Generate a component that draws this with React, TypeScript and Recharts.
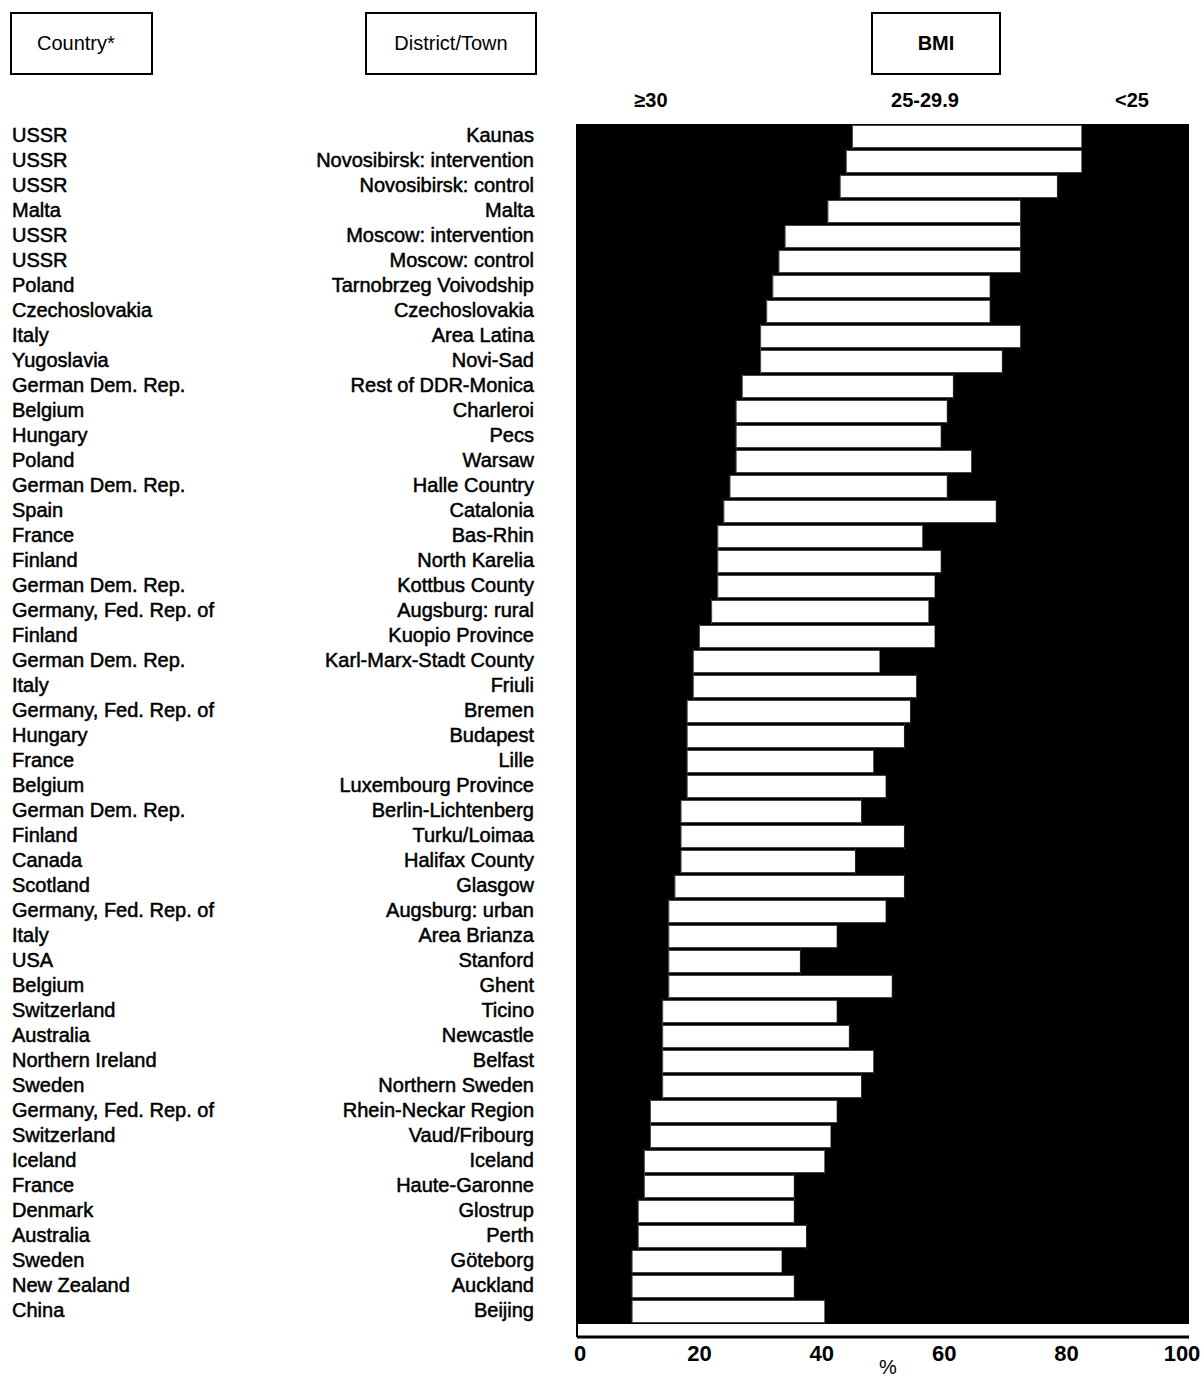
import { BarChart, Bar, XAxis, YAxis } from "recharts";

const countries = [
  "USSR", "USSR", "USSR", "Malta", "USSR", "USSR", "Poland", "Czechoslovakia",
  "Italy", "Yugoslavia", "German Dem. Rep.", "Belgium", "Hungary", "Poland",
  "German Dem. Rep.", "Spain", "France", "Finland", "German Dem. Rep.",
  "Germany, Fed. Rep. of", "Finland", "German Dem. Rep.", "Italy",
  "Germany, Fed. Rep. of", "Hungary", "France", "Belgium", "German Dem. Rep.",
  "Finland", "Canada", "Scotland", "Germany, Fed. Rep. of", "Italy", "USA",
  "Belgium", "Switzerland", "Australia", "Northern Ireland", "Sweden",
  "Germany, Fed. Rep. of", "Switzerland", "Iceland", "France", "Denmark",
  "Australia", "Sweden", "New Zealand", "China",
];

const districts = [
  "Kaunas", "Novosibirsk: intervention", "Novosibirsk: control", "Malta",
  "Moscow: intervention", "Moscow: control", "Tarnobrzeg Voivodship",
  "Czechoslovakia", "Area Latina", "Novi-Sad", "Rest of DDR-Monica",
  "Charleroi", "Pecs", "Warsaw", "Halle Country", "Catalonia", "Bas-Rhin",
  "North Karelia", "Kottbus County", "Augsburg: rural", "Kuopio Province",
  "Karl-Marx-Stadt County", "Friuli", "Bremen", "Budapest", "Lille",
  "Luxembourg Province", "Berlin-Lichtenberg", "Turku/Loimaa",
  "Halifax County", "Glasgow", "Augsburg: urban", "Area Brianza", "Stanford",
  "Ghent", "Ticino", "Newcastle", "Belfast", "Northern Sweden",
  "Rhein-Neckar Region", "Vaud/Fribourg", "Iceland", "Haute-Garonne",
  "Glostrup", "Perth", "Göteborg", "Auckland", "Beijing",
];

// BMI >= 30 (%)
const obese = [
  45, 44, 43, 41, 34, 33, 32, 31, 30, 30, 27, 26, 26, 26, 25, 24, 23, 23, 23,
  22, 20, 19, 19, 18, 18, 18, 18, 17, 17, 17, 16, 15, 15, 15, 15, 14, 14, 14,
  14, 12, 12, 11, 11, 10, 10, 9, 9, 9,
];

// BMI 25-29.9 (%)
const overweight = [
  37.5, 38.5, 35.5, 31.5, 38.5, 39.5, 35.5, 36.5, 42.5, 39.5, 34.5, 34.5,
  33.5, 38.5, 35.5, 44.5, 33.5, 36.5, 35.5, 35.5, 38.5, 30.5, 36.5, 36.5,
  35.5, 30.5, 32.5, 29.5, 36.5, 28.5, 37.5, 35.5, 27.5, 21.5, 36.5, 28.5,
  30.5, 34.5, 32.5, 30.5, 29.5, 29.5, 24.5, 25.5, 27.5, 24.5, 26.5, 31.5,
];

// BMI < 25 (%)
const normal = [
  17.5, 17.5, 21.5, 27.5, 27.5, 27.5, 32.5, 32.5, 27.5, 30.5, 38.5, 39.5,
  40.5, 35.5, 39.5, 31.5, 43.5, 40.5, 41.5, 42.5, 41.5, 50.5, 44.5, 45.5,
  46.5, 51.5, 49.5, 53.5, 46.5, 54.5, 46.5, 49.5, 57.5, 63.5, 48.5, 57.5,
  55.5, 51.5, 53.5, 57.5, 58.5, 59.5, 64.5, 64.5, 62.5, 66.5, 64.5, 59.5,
];

const xTicks = [0, 20, 40, 60, 80, 100];

const data = districts.map((d, i) => ({
  district: d,
  country: countries[i],
  obese: obese[i],
  overweight: overweight[i],
  normal: normal[i],
}));

const FONT = "'Liberation Sans', Arial, sans-serif";

// white bar with black gap above/below so the black rows look continuous
const OverweightShape = (props: any) => {
  const { x, y, width, height } = props;
  if (width <= 0) return null;
  return (
    <g>
      <rect x={x} y={y} width={width} height={height} fill="#000" />
      <rect x={x} y={y + 1.5} width={width} height={height - 3} fill="#fff" stroke="#444" strokeWidth={1} />
    </g>
  );
};

const RowLabel = (props: any) => {
  const { y, payload } = props;
  const idx = districts.indexOf(payload.value);
  return (
    <g fontFamily={FONT} fontSize={20} fill="#000" stroke="#000" strokeWidth={0.5}>
      <text x={12} y={y - 1.5} dominantBaseline="central" textAnchor="start">
        {countries[idx]}
      </text>
      <text x={534} y={y - 1.5} dominantBaseline="central" textAnchor="end">
        {payload.value}
      </text>
    </g>
  );
};

// keep the "100" label inside the picture
const PctTick = (props: any) => {
  const { x, y, payload } = props;
  const nx = payload.value === 100 ? x - 7 : payload.value === 0 ? x + 3 : x;
  return (
    <text
      x={nx}
      y={y}
      dy="0.71em"
      textAnchor="middle"
      fontFamily={FONT}
      fontSize={22}
      fontWeight="bold"
      fill="#000"
    >
      {payload.value}
    </text>
  );
};

const boxStyle: React.CSSProperties = {
  position: "absolute",
  top: 12,
  height: 63,
  border: "2px solid #000",
  display: "flex",
  alignItems: "center",
  justifyContent: "center",
  fontSize: 20,
  boxSizing: "border-box",
};

const colHead: React.CSSProperties = {
  position: "absolute",
  top: 89,
  fontSize: 20,
  fontWeight: "bold",
  transform: "translateX(-50%)",
  whiteSpace: "nowrap",
};

export default function App() {
  return (
    <div
      style={{
        position: "absolute",
        left: 0,
        top: 0,
        width: 1204,
        height: 1382,
        background: "#fff",
        fontFamily: FONT,
        color: "#000",
        overflow: "hidden",
      }}
    >
      <div style={{ ...boxStyle, left: 10, width: 143, justifyContent: "flex-start", paddingLeft: 25 }}>Country*</div>
      <div style={{ ...boxStyle, left: 365, width: 172 }}>District/Town</div>
      <div style={{ ...boxStyle, left: 871, width: 130, fontWeight: "bold" }}>BMI</div>

      <div style={{ ...colHead, left: 651 }}>≥30</div>
      <div style={{ ...colHead, left: 925 }}>25-29.9</div>
      <div style={{ ...colHead, left: 1132 }}>&lt;25</div>

      <div style={{ position: "absolute", left: 0, top: 0 }}>
        <BarChart
          width={1204}
          height={1382}
          data={data}
          layout="vertical"
          margin={{ top: 124, right: 15, bottom: 0, left: 0 }}
          barCategoryGap={0}
        >
          <XAxis
            type="number"
            domain={[0, 100]}
            ticks={xTicks}
            height={45}
            axisLine={{ stroke: "#000", strokeWidth: 3 }}
            tickLine={false}
            tick={<PctTick />}
            tickMargin={2}
          />
          <YAxis
            type="category"
            dataKey="district"
            width={577}
            interval={0}
            padding={{ top: 0, bottom: 13 }}
            axisLine={{ stroke: "#000", strokeWidth: 2 }}
            tickLine={false}
            tick={<RowLabel />}
          />
          <Bar dataKey="obese" stackId="bmi" fill="#000" isAnimationActive={false} />
          <Bar dataKey="overweight" stackId="bmi" fill="#fff" shape={<OverweightShape />} isAnimationActive={false} />
          <Bar dataKey="normal" stackId="bmi" fill="#000" isAnimationActive={false} />
        </BarChart>
      </div>

      <div style={{ position: "absolute", left: 879, top: 1356, fontSize: 20 }}>%</div>
    </div>
  );
}
